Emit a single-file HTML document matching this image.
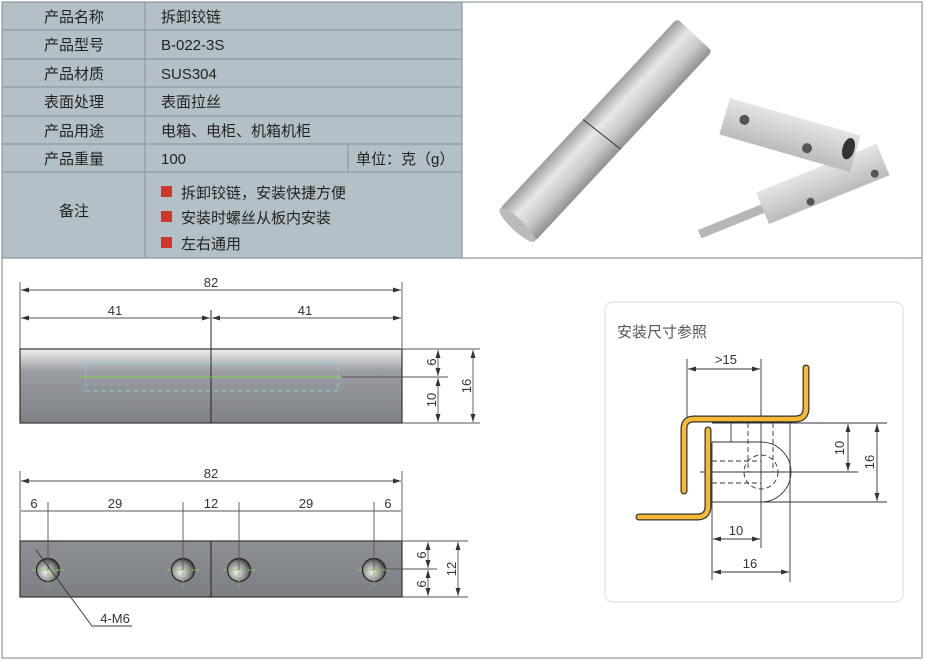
<!DOCTYPE html>
<html><head><meta charset="utf-8"><style>
body{margin:0;width:925px;height:662px;background:#fff;overflow:hidden;font-family:"Liberation Sans","Noto Sans CJK SC",sans-serif;position:relative}
</style></head><body>
<svg width="925" height="662" style="position:absolute;left:0;top:0" font-family="Liberation Sans, Noto Sans CJK SC, sans-serif">
<defs>
<linearGradient id="bar" x1="0" y1="0" x2="0" y2="1"><stop offset="0" stop-color="#eef0f1"/><stop offset="0.3" stop-color="#9a9da2"/><stop offset="1" stop-color="#7e8186"/></linearGradient>
<linearGradient id="bar2" x1="0" y1="0" x2="0" y2="1"><stop offset="0" stop-color="#8d9095"/><stop offset="1" stop-color="#7c7f84"/></linearGradient>
<radialGradient id="hole" cx="0.4" cy="0.6" r="0.7"><stop offset="0" stop-color="#eee"/><stop offset="0.6" stop-color="#888"/><stop offset="1" stop-color="#222"/></radialGradient>
<linearGradient id="cyl" x1="0" y1="0" x2="0" y2="1"><stop offset="0" stop-color="#9a9da0"/><stop offset="0.35" stop-color="#e6e7e8"/><stop offset="0.7" stop-color="#c5c7c9"/><stop offset="1" stop-color="#8e9194"/></linearGradient>
<linearGradient id="blk" x1="0" y1="0" x2="0" y2="1"><stop offset="0" stop-color="#e4e5e6"/><stop offset="1" stop-color="#b9bbbd"/></linearGradient>
<marker id="a" markerWidth="8" markerHeight="6" refX="8" refY="3" orient="auto-start-reverse" markerUnits="userSpaceOnUse"><path d="M0,0.5 L8,3 L0,5.5" fill="#333"/></marker>
</defs>
<rect x="2" y="2" width="460" height="256" fill="#b4c0c7"/>
<g stroke="#8f989e" stroke-width="1.2" fill="none">
<rect x="2" y="2" width="920" height="656"/>
<line x1="2" y1="258" x2="922" y2="258"/>
<line x1="462" y1="2" x2="462" y2="258"/>
<line x1="145" y1="2" x2="145" y2="258"/>
<line x1="2" y1="30" x2="462" y2="30"/><line x1="2" y1="59" x2="462" y2="59"/><line x1="2" y1="87" x2="462" y2="87"/><line x1="2" y1="116" x2="462" y2="116"/><line x1="2" y1="144" x2="462" y2="144"/><line x1="2" y1="172" x2="462" y2="172"/>
<line x1="348" y1="144" x2="348" y2="172"/>
</g>
<g font-size="15" fill="#222">
<text x="74" y="22" text-anchor="middle">产品名称</text><text x="74" y="50" text-anchor="middle">产品型号</text><text x="74" y="79" text-anchor="middle">产品材质</text><text x="74" y="107" text-anchor="middle">表面处理</text><text x="74" y="136" text-anchor="middle">产品用途</text><text x="74" y="164" text-anchor="middle">产品重量</text><text x="74" y="216" text-anchor="middle">备注</text>
<text x="161" y="22">拆卸铰链</text><text x="161" y="50">B-022-3S</text><text x="161" y="79">SUS304</text><text x="161" y="107">表面拉丝</text><text x="161" y="136">电箱、电柜、机箱机柜</text><text x="161" y="164">100</text><text x="356" y="164">单位：克（g）</text>
<text x="181" y="198">拆卸铰链，安装快捷方便</text><text x="181" y="223">安装时螺丝从板内安装</text><text x="181" y="249">左右通用</text>
</g>
<rect x="161" y="186" width="11" height="11" fill="#d0362b"/><rect x="161" y="211" width="11" height="11" fill="#d0362b"/><rect x="161" y="237" width="11" height="11" fill="#d0362b"/>
<!-- photo -->
<g transform="translate(606,130) rotate(-47)">
<rect x="-130" y="-24" width="260" height="48" rx="4" fill="url(#cyl)"/>
<ellipse cx="-130" cy="0" rx="6" ry="24" fill="#b8babc"/>
<line x1="-8" y1="-24" x2="-4" y2="24" stroke="#333" stroke-width="1"/>
</g>
<g transform="translate(820,185) rotate(-22)">
<rect x="-130" y="-4" width="70" height="9" fill="#b5b7b9"/>
<rect x="-62" y="-17" width="130" height="34" fill="url(#blk)"/>
<circle cx="-15" cy="12" r="4" fill="#555"/><circle cx="55" cy="10" r="4" fill="#555"/>
</g>
<g transform="translate(790,135) rotate(16)">
<rect x="-68" y="-19" width="136" height="38" fill="url(#blk)"/>
<circle cx="-48" cy="-2" r="5" fill="#555"/><circle cx="20" cy="8" r="5" fill="#555"/><ellipse cx="60" cy="-3" rx="6" ry="11" fill="#333"/>
</g>
<!-- drawing 1 -->
<rect x="20" y="349" width="382" height="74" fill="url(#bar)" stroke="#333" stroke-width="1.2"/>
<line x1="211" y1="310" x2="211" y2="423" stroke="#222" stroke-width="1"/>
<rect x="86" y="363" width="252" height="28" fill="none" stroke="#7fd0e0" stroke-dasharray="5,3"/>
<line x1="80" y1="377" x2="342" y2="377" stroke="#7ed04a"/>
<g stroke="#555" stroke-width="0.9" fill="none">
<line x1="20" y1="282" x2="20" y2="349"/><line x1="402" y1="282" x2="402" y2="349"/>
<line x1="21" y1="290" x2="401" y2="290" marker-start="url(#a)" marker-end="url(#a)"/>
<line x1="21" y1="318" x2="210" y2="318" marker-start="url(#a)" marker-end="url(#a)"/>
<line x1="212" y1="318" x2="401" y2="318" marker-start="url(#a)" marker-end="url(#a)"/>
<line x1="402" y1="349" x2="480" y2="349"/><line x1="402" y1="423" x2="480" y2="423"/><line x1="342" y1="377" x2="448" y2="377"/>
<line x1="438" y1="350" x2="438" y2="376" marker-start="url(#a)" marker-end="url(#a)"/>
<line x1="438" y1="378" x2="438" y2="422" marker-start="url(#a)" marker-end="url(#a)"/>
<line x1="473" y1="350" x2="473" y2="422" marker-start="url(#a)" marker-end="url(#a)"/>
</g>
<g font-size="13" fill="#333" text-anchor="middle">
<text x="211" y="287">82</text><text x="115" y="315">41</text><text x="305" y="315">41</text>
<text transform="translate(436,362) rotate(-90)">6</text><text transform="translate(436,400) rotate(-90)">10</text><text transform="translate(471,386) rotate(-90)">16</text>
</g>
<!-- drawing 2 -->
<rect x="20" y="541" width="382" height="56" fill="url(#bar2)" stroke="#333" stroke-width="1.2"/>
<line x1="211" y1="541" x2="211" y2="597" stroke="#222"/>
<g stroke="#222" stroke-width="1.2">
<circle cx="48" cy="570" r="11.5" fill="url(#hole)"/><circle cx="183" cy="570" r="11.5" fill="url(#hole)"/><circle cx="239" cy="570" r="11.5" fill="url(#hole)"/><circle cx="374" cy="570" r="11.5" fill="url(#hole)"/>
</g>
<g stroke="#7ed04a" stroke-width="0.9" stroke-dasharray="4,2">
<line x1="32" y1="570" x2="64" y2="570"/><line x1="48" y1="554" x2="48" y2="586"/>
<line x1="167" y1="570" x2="199" y2="570"/><line x1="183" y1="554" x2="183" y2="586"/>
<line x1="223" y1="570" x2="255" y2="570"/><line x1="239" y1="554" x2="239" y2="586"/>
<line x1="358" y1="570" x2="390" y2="570"/><line x1="374" y1="554" x2="374" y2="586"/>
</g>
<g stroke="#555" stroke-width="0.9" fill="none">
<line x1="20" y1="471" x2="20" y2="541"/><line x1="402" y1="471" x2="402" y2="541"/>
<line x1="21" y1="481" x2="401" y2="481" marker-start="url(#a)" marker-end="url(#a)"/>
<line x1="48" y1="502" x2="48" y2="570"/><line x1="183" y1="502" x2="183" y2="570"/><line x1="239" y1="502" x2="239" y2="570"/><line x1="374" y1="502" x2="374" y2="570"/>
<line x1="21" y1="511" x2="401" y2="511"/>
<line x1="402" y1="541" x2="468" y2="541"/><line x1="402" y1="597" x2="468" y2="597"/><line x1="386" y1="569" x2="437" y2="569"/>
<line x1="428" y1="542" x2="428" y2="568" marker-start="url(#a)" marker-end="url(#a)"/>
<line x1="428" y1="570" x2="428" y2="596" marker-start="url(#a)" marker-end="url(#a)"/>
<line x1="458" y1="542" x2="458" y2="596" marker-start="url(#a)" marker-end="url(#a)"/>
<polyline points="36,550 92,626 132,626" stroke="#333"/>
</g>
<g font-size="13" fill="#333" text-anchor="middle">
<text x="211" y="478">82</text><text x="34" y="508">6</text><text x="115" y="508">29</text><text x="211" y="508">12</text><text x="306" y="508">29</text><text x="388" y="508">6</text>
<text transform="translate(426,555) rotate(-90)">6</text><text transform="translate(426,584) rotate(-90)">6</text><text transform="translate(456,569) rotate(-90)">12</text>
<text x="115" y="623">4-M6</text>
</g>
<!-- install panel -->
<rect x="605" y="302" width="298" height="300" rx="8" fill="#fff" stroke="#e0e0e0" stroke-width="1.2"/>
<text x="617" y="337" font-size="15" fill="#555">安装尺寸参照</text>
<g stroke="#333" stroke-width="0.9" fill="none">
<line x1="731" y1="423" x2="731" y2="442"/><line x1="790" y1="423" x2="790" y2="582"/>
<line x1="712" y1="423" x2="887" y2="423"/>
<path d="M712,442 H761 A30,30 0 0 1 761,502 H712"/>
<line x1="761" y1="502" x2="887" y2="502"/>
<line x1="700" y1="472" x2="858" y2="472"/>
<line x1="761" y1="359" x2="761" y2="548"/>
<line x1="712" y1="442" x2="712" y2="580"/>
<line x1="687" y1="359" x2="687" y2="418"/>
<line x1="688" y1="369" x2="760" y2="369" marker-start="url(#a)" marker-end="url(#a)"/>
<line x1="713" y1="539" x2="760" y2="539" marker-start="url(#a)" marker-end="url(#a)"/>
<line x1="713" y1="572" x2="789" y2="572" marker-start="url(#a)" marker-end="url(#a)"/>
<line x1="848" y1="424" x2="848" y2="471" marker-start="url(#a)" marker-end="url(#a)"/>
<line x1="877" y1="424" x2="877" y2="501" marker-start="url(#a)" marker-end="url(#a)"/>
<g stroke-dasharray="5,3"><line x1="748" y1="423" x2="748" y2="472"/><line x1="773" y1="423" x2="773" y2="472"/><line x1="712" y1="461" x2="761" y2="461"/><line x1="712" y1="483" x2="761" y2="483"/><circle cx="761" cy="472" r="17"/></g>
</g>
<g fill="none" stroke-linecap="round" stroke-linejoin="round">
<path d="M806,368 V408 Q806,419 795,419 H694 Q684,419 684,429 V491" stroke="#333" stroke-width="7"/>
<path d="M806,368 V408 Q806,419 795,419 H694 Q684,419 684,429 V491" stroke="#f5b935" stroke-width="4.5"/>
<path d="M708,430 V506 Q708,517 697,517 H639" stroke="#333" stroke-width="7"/>
<path d="M708,430 V506 Q708,517 697,517 H639" stroke="#f5b935" stroke-width="4.5"/>
</g>
<g font-size="13" fill="#333" text-anchor="middle">
<text x="726" y="364">&gt;15</text><text x="736" y="535">10</text><text x="750" y="568">16</text>
<text transform="translate(844,448) rotate(-90)">10</text><text transform="translate(874,462) rotate(-90)">16</text>
</g>
</svg>
</body></html>
